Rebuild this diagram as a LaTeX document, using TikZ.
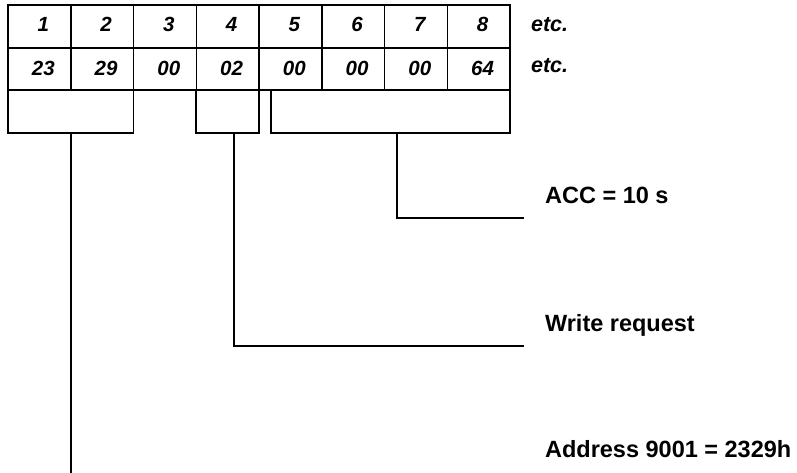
\documentclass[tikz,border=0pt]{standalone}
\usepackage{fontspec}
\setmainfont{Liberation Sans}
\begin{document}
\begin{tikzpicture}[x=1pt, y=-1pt, line width=1.5pt, every node/.style={font=\fontsize{20.5}{24}\selectfont\bfseries\itshape}]
  \tikzstyle{field}=[draw,minimum height=43pt,inner sep=0pt]
  \tikzstyle{lbl}=[anchor=base west,font=\fontsize{23.5}{28}\selectfont\bfseries]
  \useasboundingbox (0,0) rectangle (797,473);
  \draw (8,5) rectangle (510,90) (8,48) -- (510,48);
  \foreach \c in {1,...,7} \draw ({8+62.75*\c},5) -- ({8+62.75*\c},90);
  \foreach \i/\v in {1/23,2/29,3/00,4/02,5/00,6/00,7/00,8/64} {
    \node[anchor=base] (n\i) at ({62.75*\i-19.4},31.5) {\i};
    \node[anchor=base] (v\i) at ({62.75*\i-19.4},76) {\v};
  }
  \node[anchor=base west,font=\fontsize{21.5}{25}\selectfont\bfseries\itshape] (etcn) at (527,31.5) {etc.};
  \node[anchor=base west,font=\fontsize{21.5}{25}\selectfont\bfseries\itshape] (etcv) at (527,73) {etc.};
  \node[field,minimum width=125.5pt] (addr) at (70.75,111.5) {};
  \node[field,minimum width=62.75pt] (wreq) at (227.6,111.5) {};
  \node[field,minimum width=239pt] (acc) at (390.5,111.5) {};
  \node[lbl] (accl) at (541,203) {ACC = 10 s};
  \node[lbl] (wreql) at (541,331) {Write request};
  \node[lbl] (addrl) at (541,457) {Address 9001 = 2329h};
  \coordinate (accend) at (524,218);
  \coordinate (wreqend) at (524,346);
  \coordinate (addrend) at (70.75,473);
  \draw ([xshift=6.5pt]acc.south) |- (accend);
  \draw ([xshift=6.5pt]wreq.south) |- (wreqend);
  \draw (addr.south) -- (addrend);
\end{tikzpicture}
\end{document}
